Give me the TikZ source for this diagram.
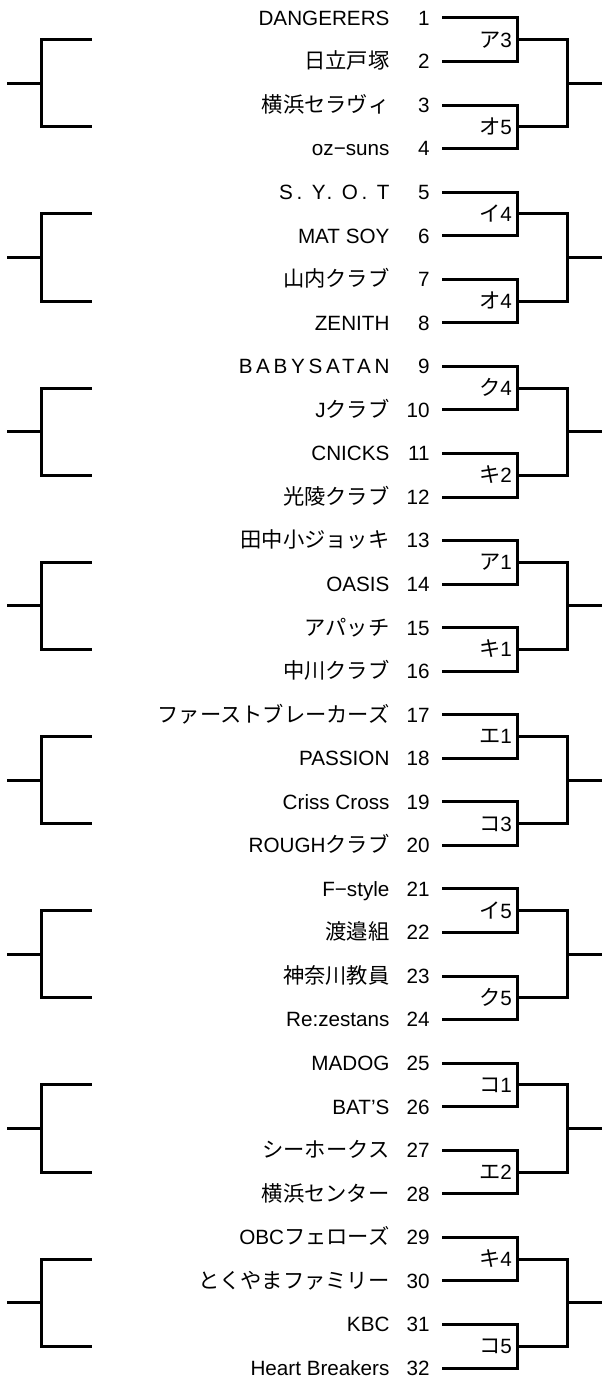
\documentclass[tikz,border=0pt]{standalone}
\usepackage{fontspec}
\setmainfont{Liberation Sans}
\newfontfamily\jp[Scale=1.03]{Noto Sans CJK JP}
\newcommand{\spaced}{\addfontfeature{LetterSpace=18}}
\tikzset{
  team/.style={anchor=east, inner sep=0pt, text height=9.6pt, text depth=0pt, font=\fontsize{13.5}{16}\selectfont},
  seed/.style={team},
  match/.style={anchor=east, inner xsep=0.13cm, inner ysep=0pt, text height=9.6pt, text depth=0pt, font=\fontsize{13.5}{16}\selectfont},
  bracket/.style={line width=1.95pt}
}
\begin{document}
\begin{tikzpicture}
%\draw[step=1cm,gray,very thin] (0,-31) grid (14,0); %background grid
\useasboundingbox (0,0.413) rectangle (13.82,-31.275);

\node[team] (t1) at (8.95,0) {DANGERERS}; \node[seed] (n1) at (9.87,0) {1};
\node[team] (t2) at (8.95,-1) {\jp 日立戸塚}; \node[seed] (n2) at (9.87,-1) {2};
\node[team] (t3) at (8.95,-2) {\jp 横浜セラヴィ}; \node[seed] (n3) at (9.87,-2) {3};
\node[team] (t4) at (8.95,-3) {oz−suns}; \node[seed] (n4) at (9.87,-3) {4};
\node[team] (t5) at (8.95,-4) {\spaced S. Y. O. T}; \node[seed] (n5) at (9.87,-4) {5};
\node[team] (t6) at (8.95,-5) {MAT SOY}; \node[seed] (n6) at (9.87,-5) {6};
\node[team] (t7) at (8.95,-6) {\jp 山内クラブ}; \node[seed] (n7) at (9.87,-6) {7};
\node[team] (t8) at (8.95,-7) {ZENITH}; \node[seed] (n8) at (9.87,-7) {8};
\node[team] (t9) at (8.95,-8) {\spaced BABYSATAN}; \node[seed] (n9) at (9.87,-8) {9};
\node[team] (t10) at (8.95,-9) {J{\jp クラブ}}; \node[seed] (n10) at (9.87,-9) {10};
\node[team] (t11) at (8.95,-10) {CNICKS}; \node[seed] (n11) at (9.87,-10) {11};
\node[team] (t12) at (8.95,-11) {\jp 光陵クラブ}; \node[seed] (n12) at (9.87,-11) {12};
\node[team] (t13) at (8.95,-12) {\jp 田中小ジョッキ}; \node[seed] (n13) at (9.87,-12) {13};
\node[team] (t14) at (8.95,-13) {OASIS}; \node[seed] (n14) at (9.87,-13) {14};
\node[team] (t15) at (8.95,-14) {\jp アパッチ}; \node[seed] (n15) at (9.87,-14) {15};
\node[team] (t16) at (8.95,-15) {\jp 中川クラブ}; \node[seed] (n16) at (9.87,-15) {16};
\node[team] (t17) at (8.95,-16) {\jp ファーストブレーカーズ}; \node[seed] (n17) at (9.87,-16) {17};
\node[team] (t18) at (8.95,-17) {PASSION}; \node[seed] (n18) at (9.87,-17) {18};
\node[team] (t19) at (8.95,-18) {Criss Cross}; \node[seed] (n19) at (9.87,-18) {19};
\node[team] (t20) at (8.95,-19) {ROUGH{\jp クラブ}}; \node[seed] (n20) at (9.87,-19) {20};
\node[team] (t21) at (8.95,-20) {F−style}; \node[seed] (n21) at (9.87,-20) {21};
\node[team] (t22) at (8.95,-21) {\jp 渡邉組}; \node[seed] (n22) at (9.87,-21) {22};
\node[team] (t23) at (8.95,-22) {\jp 神奈川教員}; \node[seed] (n23) at (9.87,-22) {23};
\node[team] (t24) at (8.95,-23) {Re:zestans}; \node[seed] (n24) at (9.87,-23) {24};
\node[team] (t25) at (8.95,-24) {MADOG}; \node[seed] (n25) at (9.87,-24) {25};
\node[team] (t26) at (8.95,-25) {BAT'S}; \node[seed] (n26) at (9.87,-25) {26};
\node[team] (t27) at (8.95,-26) {\jp シーホークス}; \node[seed] (n27) at (9.87,-26) {27};
\node[team] (t28) at (8.95,-27) {\jp 横浜センター}; \node[seed] (n28) at (9.87,-27) {28};
\node[team] (t29) at (8.95,-28) {OBC{\jp フェローズ}}; \node[seed] (n29) at (9.87,-28) {29};
\node[team] (t30) at (8.95,-29) {\jp とくやまファミリー}; \node[seed] (n30) at (9.87,-29) {30};
\node[team] (t31) at (8.95,-30) {KBC}; \node[seed] (n31) at (9.87,-30) {31};
\node[team] (t32) at (8.95,-31) {Heart Breakers}; \node[seed] (n32) at (9.87,-31) {32};

\node[match] (m1) at (11.89,-0.5) {{\jp ア}3}; \draw[bracket] ([xshift=0.28cm]n1.east) -| (m1.east) |- ([xshift=0.28cm]n2.east);
\node[match] (m2) at (11.89,-2.5) {{\jp オ}5}; \draw[bracket] ([xshift=0.28cm]n3.east) -| (m2.east) |- ([xshift=0.28cm]n4.east);
\node[match] (m3) at (11.89,-4.5) {{\jp イ}4}; \draw[bracket] ([xshift=0.28cm]n5.east) -| (m3.east) |- ([xshift=0.28cm]n6.east);
\node[match] (m4) at (11.89,-6.5) {{\jp オ}4}; \draw[bracket] ([xshift=0.28cm]n7.east) -| (m4.east) |- ([xshift=0.28cm]n8.east);
\node[match] (m5) at (11.89,-8.5) {{\jp ク}4}; \draw[bracket] ([xshift=0.28cm]n9.east) -| (m5.east) |- ([xshift=0.28cm]n10.east);
\node[match] (m6) at (11.89,-10.5) {{\jp キ}2}; \draw[bracket] ([xshift=0.28cm]n11.east) -| (m6.east) |- ([xshift=0.28cm]n12.east);
\node[match] (m7) at (11.89,-12.5) {{\jp ア}1}; \draw[bracket] ([xshift=0.28cm]n13.east) -| (m7.east) |- ([xshift=0.28cm]n14.east);
\node[match] (m8) at (11.89,-14.5) {{\jp キ}1}; \draw[bracket] ([xshift=0.28cm]n15.east) -| (m8.east) |- ([xshift=0.28cm]n16.east);
\node[match] (m9) at (11.89,-16.5) {{\jp エ}1}; \draw[bracket] ([xshift=0.28cm]n17.east) -| (m9.east) |- ([xshift=0.28cm]n18.east);
\node[match] (m10) at (11.89,-18.5) {{\jp コ}3}; \draw[bracket] ([xshift=0.28cm]n19.east) -| (m10.east) |- ([xshift=0.28cm]n20.east);
\node[match] (m11) at (11.89,-20.5) {{\jp イ}5}; \draw[bracket] ([xshift=0.28cm]n21.east) -| (m11.east) |- ([xshift=0.28cm]n22.east);
\node[match] (m12) at (11.89,-22.5) {{\jp ク}5}; \draw[bracket] ([xshift=0.28cm]n23.east) -| (m12.east) |- ([xshift=0.28cm]n24.east);
\node[match] (m13) at (11.89,-24.5) {{\jp コ}1}; \draw[bracket] ([xshift=0.28cm]n25.east) -| (m13.east) |- ([xshift=0.28cm]n26.east);
\node[match] (m14) at (11.89,-26.5) {{\jp エ}2}; \draw[bracket] ([xshift=0.28cm]n27.east) -| (m14.east) |- ([xshift=0.28cm]n28.east);
\node[match] (m15) at (11.89,-28.5) {{\jp キ}4}; \draw[bracket] ([xshift=0.28cm]n29.east) -| (m15.east) |- ([xshift=0.28cm]n30.east);
\node[match] (m16) at (11.89,-30.5) {{\jp コ}5}; \draw[bracket] ([xshift=0.28cm]n31.east) -| (m16.east) |- ([xshift=0.28cm]n32.east);

\coordinate (q1) at (13.04,-1.5); \coordinate (o1) at (13.82,-1.5); \draw[bracket] (m1.east) -| (q1) |- (m2.east); \draw[bracket] (q1) -- (o1);
\coordinate (q2) at (13.04,-5.5); \coordinate (o2) at (13.82,-5.5); \draw[bracket] (m3.east) -| (q2) |- (m4.east); \draw[bracket] (q2) -- (o2);
\coordinate (q3) at (13.04,-9.5); \coordinate (o3) at (13.82,-9.5); \draw[bracket] (m5.east) -| (q3) |- (m6.east); \draw[bracket] (q3) -- (o3);
\coordinate (q4) at (13.04,-13.5); \coordinate (o4) at (13.82,-13.5); \draw[bracket] (m7.east) -| (q4) |- (m8.east); \draw[bracket] (q4) -- (o4);
\coordinate (q5) at (13.04,-17.5); \coordinate (o5) at (13.82,-17.5); \draw[bracket] (m9.east) -| (q5) |- (m10.east); \draw[bracket] (q5) -- (o5);
\coordinate (q6) at (13.04,-21.5); \coordinate (o6) at (13.82,-21.5); \draw[bracket] (m11.east) -| (q6) |- (m12.east); \draw[bracket] (q6) -- (o6);
\coordinate (q7) at (13.04,-25.5); \coordinate (o7) at (13.82,-25.5); \draw[bracket] (m13.east) -| (q7) |- (m14.east); \draw[bracket] (q7) -- (o7);
\coordinate (q8) at (13.04,-29.5); \coordinate (o8) at (13.82,-29.5); \draw[bracket] (m15.east) -| (q8) |- (m16.east); \draw[bracket] (q8) -- (o8);

%left side
\draw[bracket] (2.11,-0.5) -| (0.96,-2.5) -- (2.11,-2.5); \draw[bracket] (0.96,-1.5) -- (0.16,-1.5);
\draw[bracket] (2.11,-4.5) -| (0.96,-6.5) -- (2.11,-6.5); \draw[bracket] (0.96,-5.5) -- (0.16,-5.5);
\draw[bracket] (2.11,-8.5) -| (0.96,-10.5) -- (2.11,-10.5); \draw[bracket] (0.96,-9.5) -- (0.16,-9.5);
\draw[bracket] (2.11,-12.5) -| (0.96,-14.5) -- (2.11,-14.5); \draw[bracket] (0.96,-13.5) -- (0.16,-13.5);
\draw[bracket] (2.11,-16.5) -| (0.96,-18.5) -- (2.11,-18.5); \draw[bracket] (0.96,-17.5) -- (0.16,-17.5);
\draw[bracket] (2.11,-20.5) -| (0.96,-22.5) -- (2.11,-22.5); \draw[bracket] (0.96,-21.5) -- (0.16,-21.5);
\draw[bracket] (2.11,-24.5) -| (0.96,-26.5) -- (2.11,-26.5); \draw[bracket] (0.96,-25.5) -- (0.16,-25.5);
\draw[bracket] (2.11,-28.5) -| (0.96,-30.5) -- (2.11,-30.5); \draw[bracket] (0.96,-29.5) -- (0.16,-29.5);

\end{tikzpicture}
\end{document}
